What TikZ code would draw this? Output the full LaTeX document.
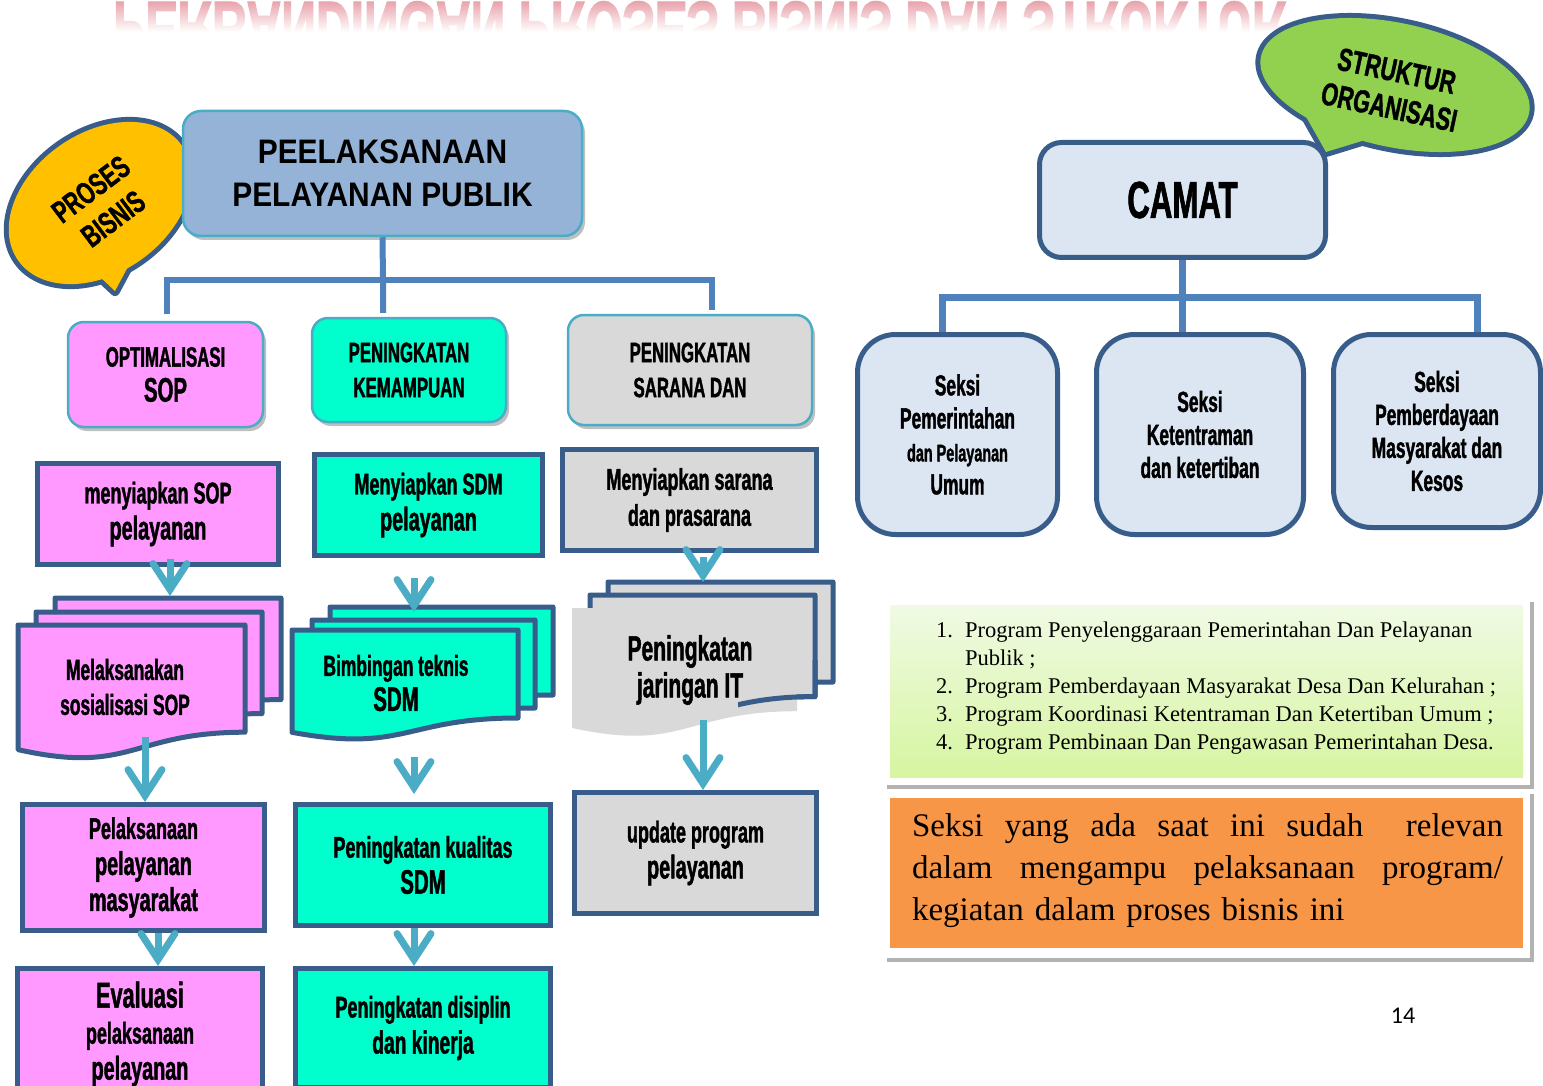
\documentclass[tikz,border=0pt]{standalone}
\usepackage{fontspec}
\setmainfont{Liberation Serif}
\newfontfamily\condfont[FakeStretch=0.6, FakeBold=1.3]{Liberation Sans}
\newfontfamily\stencfont[FakeStretch=0.68, FakeBold=1.2]{Liberation Sans}
\newfontfamily\headfont[FakeStretch=0.88]{Liberation Sans}
\newfontfamily\pagefont{Carlito}
\usetikzlibrary{positioning,arrows.meta,shadows,fadings}

\definecolor{pinkfill}{HTML}{FF99FF}
\definecolor{aquafill}{HTML}{00FFCC}
\definecolor{greyfill}{HTML}{D9D9D9}
\definecolor{headblue}{HTML}{95B3D7}
\definecolor{rimteal}{HTML}{4BACC6}
\definecolor{darkrim}{HTML}{385D8A}
\definecolor{treeblue}{HTML}{4F81BD}
\definecolor{seksifill}{HTML}{DCE6F2}
\definecolor{bubyellow}{HTML}{FFC000}
\definecolor{bubgreen}{HTML}{92D050}
\definecolor{notetop}{HTML}{F0FAE4}
\definecolor{notegreen}{HTML}{D6F5A0}
\definecolor{noteorange}{HTML}{F79646}
\definecolor{ghostpink}{HTML}{E8A0A8}

\newcommand\fsz[2]{\fontsize{#1pt}{#2pt}\selectfont}

% x, y of the top left corner, width, height, style
\newcommand\docshape[5]{%
  \path[#5] (#1,{#2+0.93*#4}) -- (#1,#2) -- ({#1+#3},#2) -- ({#1+#3},{#2+0.8*#4})
    .. controls ({#1+0.5*#3},{#2+0.8*#4}) and ({#1+0.5*#3},{#2+1.12*#4}) .. (#1,{#2+0.93*#4}) -- cycle;}

\tikzset{
  headbox/.style={draw=rimteal, line width=2.5pt, rounded corners=16pt,
    drop shadow={shadow xshift=3pt, shadow yshift=-4pt, fill=black, opacity=0.25},
    font=\condfont\bfseries\fsz{28}{35}, align=center},
  stepbox/.style={draw=darkrim, line width=5pt, font=\condfont\bfseries\fsz{30}{36}, align=center},
  docbox/.style={draw=darkrim, line width=5pt, line join=round},
  doctext/.style={font=\condfont\bfseries\fsz{29}{35}, align=center},
  seksibox/.style={draw=darkrim, line width=5pt, fill=seksifill, rounded corners=38pt,
    font=\condfont\bfseries\fsz{29}{33}, align=center},
  treeline/.style={draw=treeblue, line width=6pt},
  flow/.style={draw=rimteal, line width=7pt, -{Straight Barb[length=26pt, width=34pt, line cap=round]}},
  bubble/.style={draw=darkrim, line width=10pt, line join=round},
  panel/.style={fill=white, drop shadow={shadow xshift=4pt, shadow yshift=-4pt, fill=black, opacity=0.3}},
}

\begin{document}
\begin{tikzpicture}[x=1pt, y=-1pt]
    \useasboundingbox (0, 0) rectangle (1543, 1086);
    \clip (0, 0) rectangle (1543, 1086);
    \fill[white] (0, 0) rectangle (1543, 1086);

    \path (700, 2) node [yscale=-1, anchor=base, text=ghostpink, font=\condfont\bfseries\fsz{80}{80}] (ghostTitle) {PERBANDINGAN PROSES BISNIS DAN STRUKTUR};
    \fill[white, path fading=north] (60, 0) rectangle (1340, 32);
    \fill[white] (60, 32) rectangle (1340, 100);

    % proses bisnis
    \draw[bubble, rotate around={35:(100, 203)}] (100, 203) ellipse [x radius=100, y radius=70];
    \draw[bubble] (84, 262) -- (115, 291) -- (138, 248);
    \fill[bubyellow, rotate around={35:(100, 203)}] (100, 203) ellipse [x radius=100, y radius=70];
    \fill[bubyellow] (84, 262) -- (115, 291) -- (138, 248) -- cycle;
    \path (102, 204) node [rotate=37, font=\stencfont\bfseries\fsz{31}{37}, align=center] (prosesTxt) {PROSES\\BISNIS};

    \path (382.5, 173.5) node [headbox, fill=headblue, rounded corners=18pt, minimum width=399pt, minimum height=125pt,
        font=\headfont\bfseries\fsz{34}{43}] (main) {PEELAKSANAAN\\PELAYANAN PUBLIK};

    \path (165.5, 374.5) node [headbox, fill=pinkfill, minimum width=195pt, minimum height=105pt] (opt) {OPTIMALISASI\\{\fsz{34}{35}SOP}};
    \path (409, 370) node [headbox, fill=aquafill, minimum width=194pt, minimum height=104pt] (kem) {PENINGKATAN\\KEMAMPUAN};
    \path (690, 370) node [headbox, fill=greyfill, minimum width=244pt, minimum height=110pt] (sar) {PENINGKATAN\\SARANA DAN};

    \coordinate (lbus) at (383, 280);
    \coordinate (lbusL) at (167, 280);
    \coordinate (lbusR) at (712, 280);
    \draw[treeline, shorten >=4pt] (main.south) -- (lbus) -- (lbus |- kem.north);
    \draw[treeline, shorten <=7pt, shorten >=4pt] (lbusL |- opt.north) -- (lbusL) -- (lbusR) -- (lbusR |- sar.north);

    \path (158, 514) node [stepbox, fill=pinkfill, minimum width=241pt, minimum height=101pt] (menySop) {menyiapkan SOP\\{\fsz{33}{36}pelayanan}};
    \path (428.5, 505) node [stepbox, fill=aquafill, minimum width=228pt, minimum height=101pt] (menySdm) {Menyiapkan SDM\\{\fsz{33}{36}pelayanan}};
    \path (689.5, 500) node [stepbox, fill=greyfill, minimum width=254pt, minimum height=101pt] (menySar) {Menyiapkan sarana\\dan prasarana};

    \docshape{55}{598}{226}{127}{docbox, fill=pinkfill}
    \docshape{36}{612}{226}{127}{docbox, fill=pinkfill}
    \docshape{18}{625}{227}{134}{docbox, fill=pinkfill}
    \path (125, 687) node [doctext] (melak) {Melaksanakan\\sosialisasi SOP};

    \docshape{330}{607}{223}{110}{docbox, fill=aquafill}
    \docshape{312}{620}{223}{110}{docbox, fill=aquafill}
    \docshape{292}{630}{226}{110}{docbox, fill=aquafill}
    \path (396, 683) node [doctext] (bimb) {Bimbingan teknis\\{\fsz{34}{35}SDM}};

    \docshape{608}{582}{225}{125}{docbox, fill=greyfill}
    \docshape{590}{595}{225}{127}{docbox, fill=greyfill}
    \docshape{572}{608}{225}{129}{fill=greyfill}
    \begin{scope}
        \clip (738, 660) rectangle (840, 720);
        \docshape{590}{595}{225}{127}{docbox}
    \end{scope}
    \path (690, 670) node [doctext, font=\condfont\bfseries\fsz{35}{37}] (jar) {Peningkatan\\jaringan IT};

    \path (143.5, 867.5) node [stepbox, fill=pinkfill, minimum width=242pt, minimum height=126pt] (pelak) {Pelaksanaan\\{\fsz{33}{36}pelayanan}\\{\fsz{33}{36}masyarakat}};
    \path (423, 865) node [stepbox, fill=aquafill, minimum width=255pt, minimum height=121pt] (kual) {Peningkatan kualitas\\{\fsz{34}{36}SDM}};
    \path (695.5, 853) node [stepbox, fill=greyfill, minimum width=242pt, minimum height=121pt] (upd) {update program\\{\fsz{33}{36}pelayanan}};

    \path (140, 1034) node [stepbox, fill=pinkfill, minimum width=245pt, minimum height=131pt] (evalu) {{\fsz{36}{37}Evaluasi}\\pelaksanaan\\{\fsz{33}{36}pelayanan}};
    \path (423, 1028) node [stepbox, fill=aquafill, minimum width=255pt, minimum height=119pt] (disip) {Peningkatan disiplin\\{\fsz{32}{36}dan kinerja}};

    \coordinate (melakTop) at (170, 596);
    \coordinate (melakBot) at (145, 737);
    \coordinate (bimbTop) at (414, 612);
    \coordinate (bimbBot) at (414, 757);
    \coordinate (jarTop) at (703, 582);
    \coordinate (jarBot) at (703, 720);
    \coordinate (pelakOut) at ([xshift=14.5pt]pelak.south);
    \coordinate (kualOut) at ([xshift=-9pt]kual.south);
    \draw[flow] ([xshift=12pt, yshift=8pt]menySop.south) -- (melakTop);
    \draw[flow] ([xshift=-14.5pt, yshift=-20pt]menySdm.south) -- (bimbTop);
    \draw[flow] ([xshift=13.5pt, yshift=-4pt]menySar.south) -- (jarTop);
    \draw[flow] (melakBot) -- (melakBot |- pelak.north);
    \draw[flow, shorten >=8pt] (bimbBot) -- (bimbBot |- kual.north);
    \draw[flow] (jarBot) -- (jarBot |- upd.north);
    \draw[flow] (pelakOut) -- (pelakOut |- evalu.north);
    \draw[flow] (kualOut) -- (kualOut |- disip.north);

    % struktur organisasi
    \draw[bubble, rotate around={-12:(1395, 85)}] (1395, 85) ellipse [x radius=137, y radius=62];
    \draw[bubble] (1305, 115) -- (1326, 152) -- (1365, 140);
    \fill[bubgreen, rotate around={-12:(1395, 85)}] (1395, 85) ellipse [x radius=137, y radius=62];
    \fill[bubgreen] (1305, 115) -- (1326, 152) -- (1365, 140) -- cycle;
    \path (1393, 89) node [rotate=-12, font=\stencfont\bfseries\fsz{32}{37}, align=center] (strukTxt) {STRUKTUR\\ORGANISASI};

    \path (1182.5, 200) node [draw=darkrim, line width=5pt, fill=seksifill, rounded corners=22pt, minimum width=286pt, minimum height=115pt,
        font=\condfont\bfseries\fsz{52}{52}] (camat) {CAMAT};

    \path (957.5, 434.5) node [seksibox, minimum width=200pt, minimum height=200pt] (seksiPem) {Seksi\\Pemerintahan\\{\fsz{24}{33}dan Pelayanan}\\Umum};
    \path (1200, 434.5) node [seksibox, minimum width=207pt, minimum height=200pt] (seksiKet) {Seksi\\Ketentraman\\dan ketertiban};
    \path (1437, 431) node [seksibox, minimum width=207pt, minimum height=193pt] (seksiMas) {Seksi\\Pemberdayaan\\Masyarakat dan\\Kesos};

    \coordinate (rbusL) at (942, 298);
    \coordinate (rbusR) at (1477, 298);
    \draw[treeline, line width=7pt] (camat.south) -- (camat.south |- seksiKet.north);
    \draw[treeline, line width=7pt] (rbusL |- seksiPem.north) -- (rbusL) -- (rbusR) -- (rbusR |- seksiMas.north);

    \path (1206.5, 691.5) node [panel, minimum width=647pt, minimum height=187pt] (listPanel) {};
    \path (1206.5, 691) node [top color=notetop, bottom color=notegreen, minimum width=633pt, minimum height=172pt] (listBox) {};
    \path (936, 618) node [anchor=north west, inner sep=0pt, font=\fsz{22.5}{28}] (progList) {%
        \begin{tabular}{@{}r@{\hspace{12pt}}l@{}}
        1. & Program Penyelenggaraan Pemerintahan Dan Pelayanan\\
           & Publik ;\\
        2. & Program Pemberdayaan Masyarakat Desa Dan Kelurahan ;\\
        3. & Program Koordinasi Ketentraman Dan Ketertiban Umum ;\\
        4. & Program Pembinaan Dan Pengawasan Pemerintahan Desa.
        \end{tabular}};

    \path (1206.5, 874) node [panel, minimum width=647pt, minimum height=168pt] (notePanel) {};
    \path (1206.5, 873) node [fill=noteorange, minimum width=633pt, minimum height=150pt] (noteBox) {};
    \path (1207.5, 871) node [font=\fsz{33}{42}, text width=591pt, align=left, inner sep=0pt] (noteTxt) {%
        \makebox[591pt][l]{Seksi\hfill yang\hfill ada\hfill saat\hfill ini\hfill sudah\hfill\hfill relevan}\\
        \makebox[591pt][l]{dalam\hfill mengampu\hfill pelaksanaan\hfill program/}\\
        kegiatan dalam proses bisnis ini};

    \path (1403, 1016) node [font=\pagefont\fsz{24}{24}] (pageNum) {14};
\end{tikzpicture}
\end{document}
